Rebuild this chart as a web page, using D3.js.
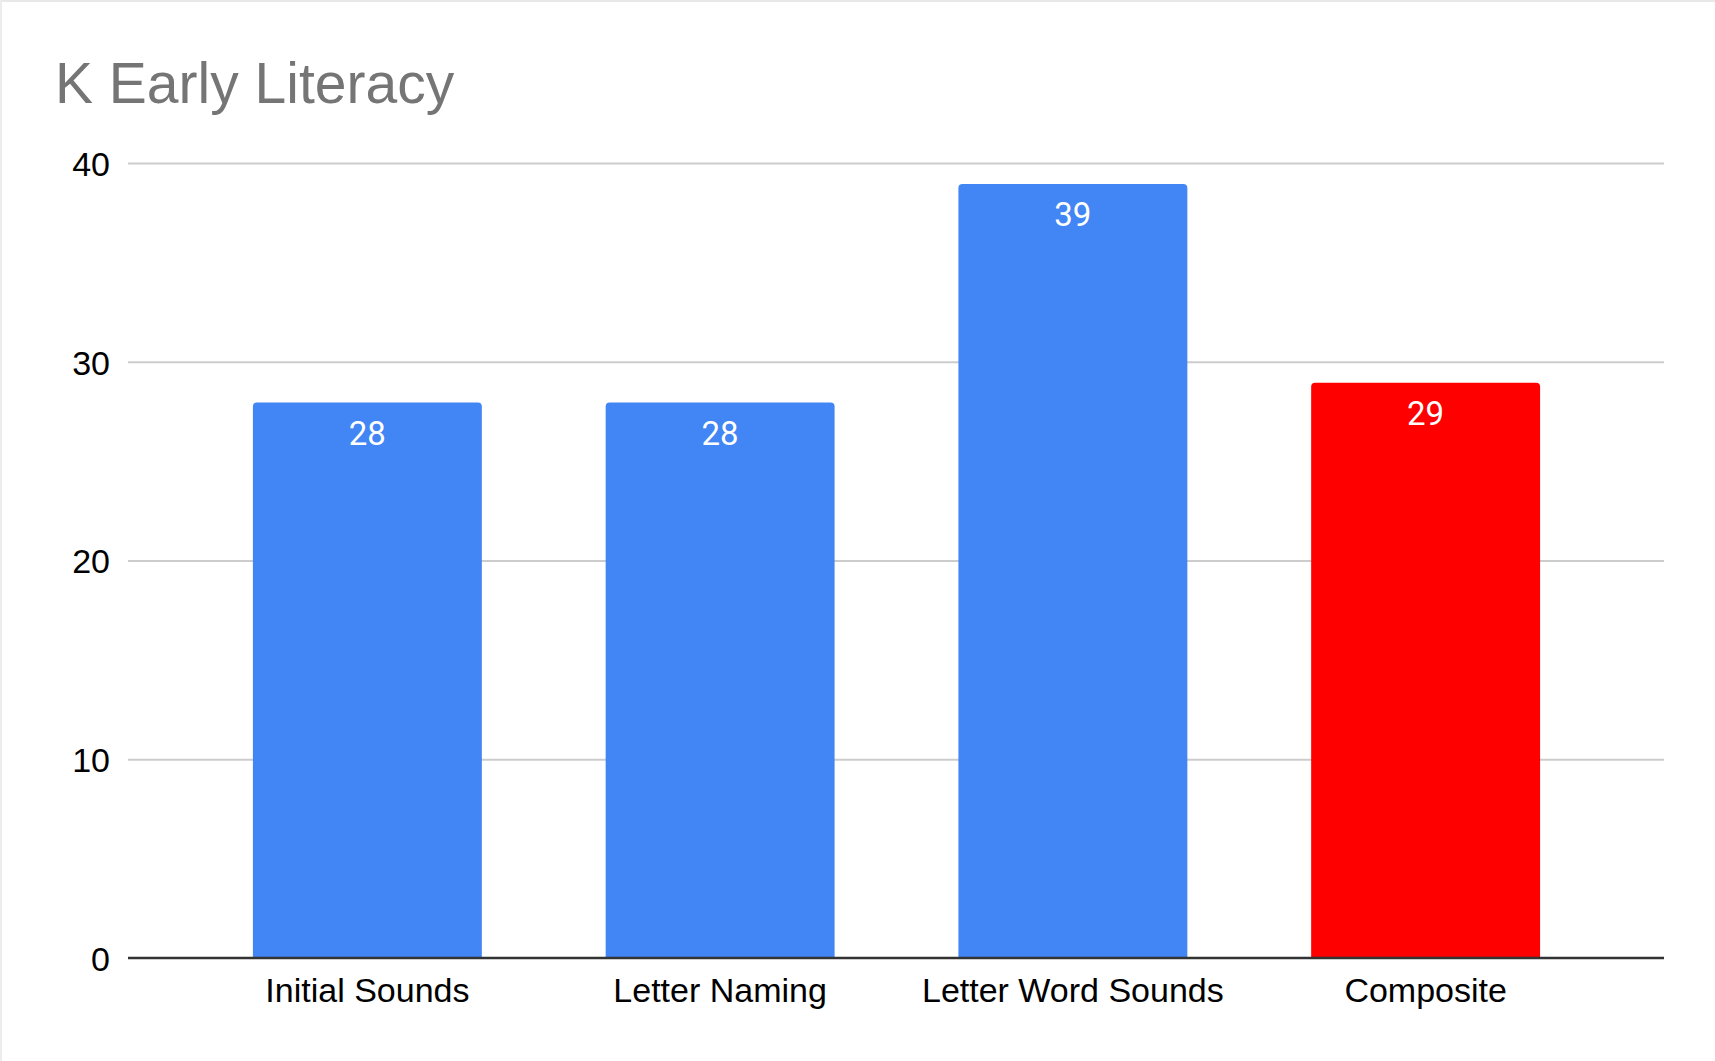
<!DOCTYPE html>
<html>
<head>
<meta charset="utf-8">
<script src="https://cdn.jsdelivr.net/npm/d3@7"></script>
<style>
  html, body { margin: 0; padding: 0; background: #fff; }
  svg { display: block; }
</style>
</head>
<body>
<svg id="chart" width="1715" height="1061"></svg>
<script>
const categories = ["Initial Sounds", "Letter Naming", "Letter Word Sounds", "Composite"];
const values = [28, 28, 39, 29];
const barColors = ["#4285f4", "#4285f4", "#4285f4", "#ff0000"];
const yTicks = [0, 10, 20, 30, 40];
const title = "K Early Literacy";

const W = 1715, H = 1061;
const svg = d3.select("#chart");

svg.append("rect").attr("x", 0).attr("y", 0).attr("width", W).attr("height", H).attr("fill", "#fff");
svg.append("rect").attr("x", 0).attr("y", 0).attr("width", W).attr("height", 2).attr("fill", "#e8e8e8");
svg.append("rect").attr("x", 0).attr("y", 0).attr("width", 2).attr("height", H).attr("fill", "#ececec");

const plotLeft = 128, plotRight = 1664, plotTop = 163, plotBottom = 958;

const y = d3.scaleLinear().domain([0, 40]).range([plotBottom, plotTop]);
const x = d3.scaleBand().domain(categories).range([191, 1602]).paddingInner(0.351).paddingOuter(0.1755);

svg.append("text").attr("x", 55).attr("y", 103)
  .attr("font-family", "Liberation Sans, Arial, sans-serif").attr("font-size", 57)
  .attr("fill", "#757575").text(title);

// gridlines
const yAxis = d3.axisLeft(y).tickValues(yTicks).tickSize(-(plotRight - plotLeft)).tickPadding(18);
const gy = svg.append("g").attr("transform", `translate(${plotLeft},0)`).call(yAxis);
gy.select(".domain").remove();
gy.selectAll(".tick line").attr("stroke", "#cccccc").attr("stroke-width", 2)
  .attr("opacity", d => d === 0 ? 0 : 1);
gy.selectAll(".tick text").attr("font-family", "Liberation Sans, Arial, sans-serif")
  .attr("font-size", 34).attr("fill", "#000").attr("dy", "0.36em");

// bars
function barPath(x0, y0, w, h, r) {
  return `M${x0},${y0 + h}V${y0 + r}Q${x0},${y0} ${x0 + r},${y0}H${x0 + w - r}Q${x0 + w},${y0} ${x0 + w},${y0 + r}V${y0 + h}Z`;
}
svg.append("g").selectAll("path").data(categories).join("path")
  .attr("d", (c, i) => barPath(x(c), y(values[i]) + 1, x.bandwidth(), y(0) - y(values[i]) - 1, 4))
  .attr("fill", (c, i) => barColors[i]);

// data labels
svg.append("g").selectAll("text").data(categories).join("text")
  .attr("x", c => x(c) + x.bandwidth() / 2)
  .attr("y", (c, i) => y(values[i]) + 43)
  .attr("text-anchor", "middle")
  .attr("font-family", "Roboto, sans-serif").attr("font-size", 33)
  .attr("fill", "#fff").text((c, i) => values[i]);

// x axis
const xAxis = d3.axisBottom(x).tickSize(0).tickPadding(20);
const gx = svg.append("g").attr("transform", `translate(0,${plotBottom})`).call(xAxis);
gx.select(".domain").remove();
gx.selectAll(".tick text").attr("font-family", "Liberation Sans, Arial, sans-serif")
  .attr("font-size", 34).attr("fill", "#000").attr("dy", "0.71em");
svg.append("line").attr("x1", plotLeft).attr("x2", plotRight)
  .attr("y1", y(0)).attr("y2", y(0)).attr("stroke", "#333").attr("stroke-width", 2.5);
</script>
</body>
</html>
